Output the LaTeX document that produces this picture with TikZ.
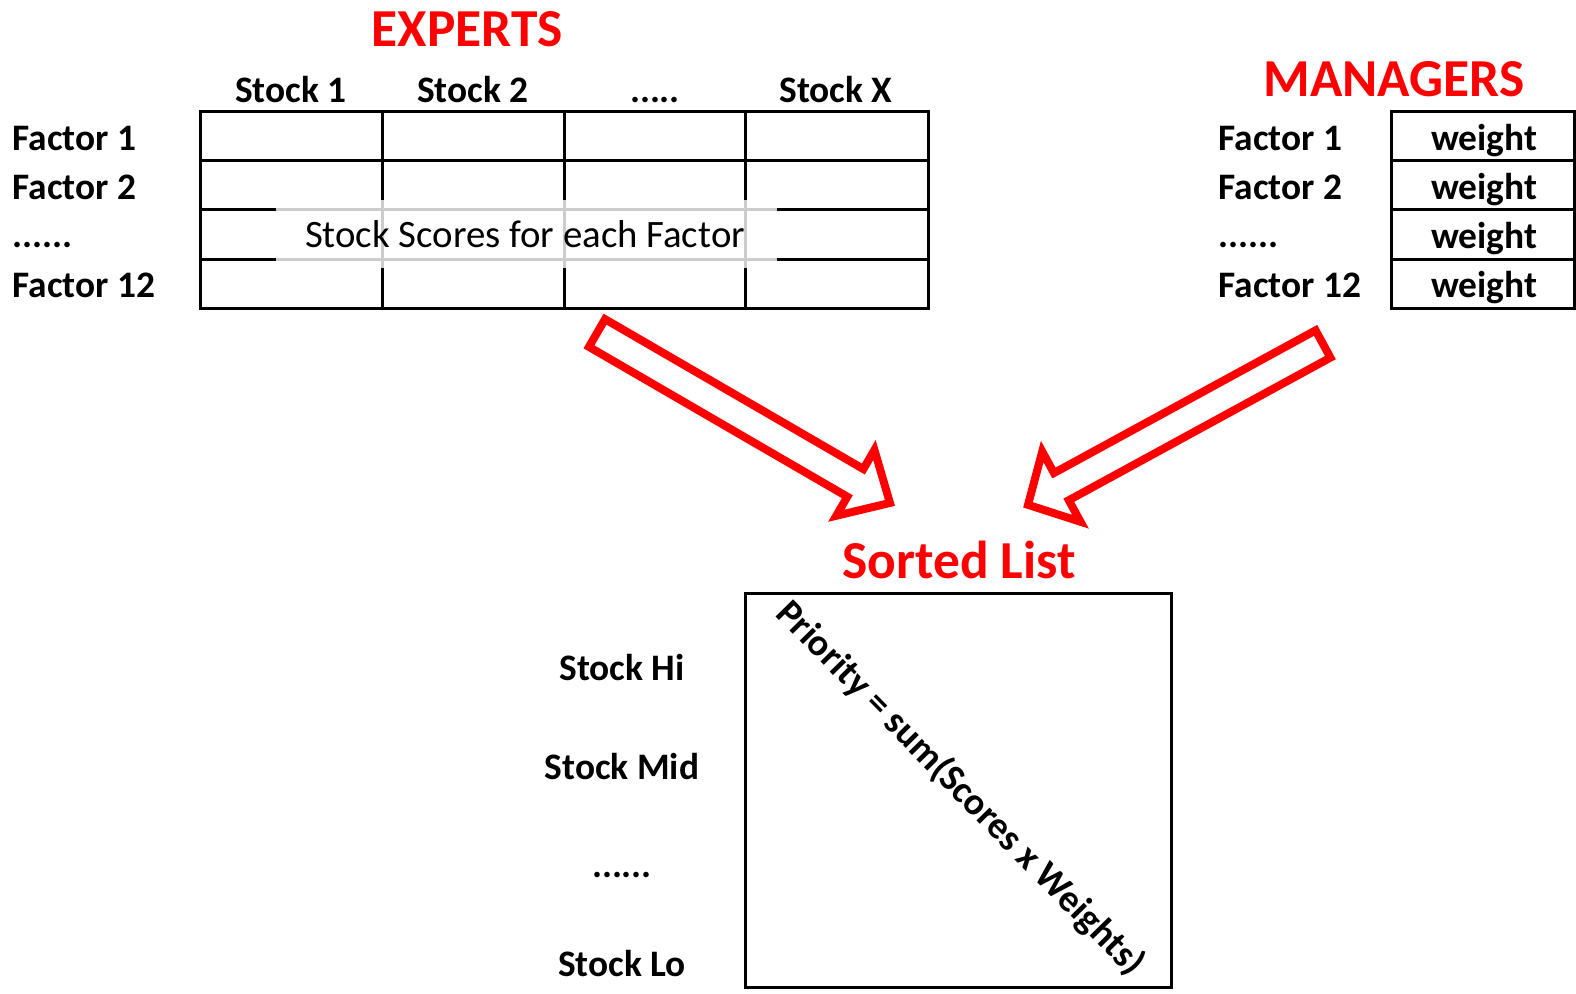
\documentclass[tikz,border=0pt]{standalone}
\usepackage{fontspec}
\setmainfont{Carlito}
\begin{document}
\begin{tikzpicture}[x=0.5pt,y=-0.5pt,
  grid/.style={line width=1.5pt, draw=black},
  lbl/.style={font=\fontsize{18.7}{22}\selectfont\bfseries, inner sep=0pt, text height=0.66em, text depth=0.2em},
  plain/.style={font=\fontsize{19.4}{22}\selectfont, inner sep=0pt, text height=0.66em, text depth=0.2em},
  ttl/.style={font=\fontsize{26.7}{32}\selectfont\bfseries, text=red, inner sep=0pt, text height=0.66em, text depth=0.2em},
  bigarrow/.style={draw=red, line width=4pt, line join=miter, fill=white}]
\path[fill=white] (0,0) rectangle (1576,994);
\useasboundingbox (0,0) rectangle (1576,994);

% ---------- EXPERTS table ----------
\node[ttl] (experts) at (467,42) {EXPERTS};
\draw[grid] (200,112) rectangle (928,309);
\foreach \y in {161,210,260} \draw[grid] (200,\y) -- (928,\y);
\foreach \x in {382,564,745} \draw[grid] (\x,112) -- (\x,309);
\fill[white, fill opacity=0.8] (276,200) rectangle (777,268);
\node[plain] (scores) at (525,243) {Stock Scores for each Factor};

\node[lbl] (s1) at (291,98) {Stock 1};
\node[lbl] (s2) at (473,98) {Stock 2};
\node[lbl] (sd) at (655,98) {.....};
\node[lbl] (sx) at (836,98) {Stock X};

\node[lbl, anchor=west] (ef1) at (12,146) {Factor 1};
\node[lbl, anchor=west] (ef2) at (12,195) {Factor 2};
\node[lbl, anchor=west] (efd) at (12,243) {......};
\node[lbl, anchor=west] (ef12) at (12,293) {Factor 12};

% ---------- MANAGERS table ----------
\node[ttl] (managers) at (1394,92) {MANAGERS};
\draw[grid] (1391,112) rectangle (1574,309);
\foreach \y in {161,210,260} \draw[grid] (1391,\y) -- (1574,\y);
\node[lbl] (w1) at (1484,146) {weight};
\node[lbl] (w2) at (1484,195) {weight};
\node[lbl] (w3) at (1484,244) {weight};
\node[lbl] (w4) at (1484,293) {weight};

\node[lbl, anchor=west] (mf1) at (1218,146) {Factor 1};
\node[lbl, anchor=west] (mf2) at (1218,195) {Factor 2};
\node[lbl, anchor=west] (mfd) at (1218,243) {......};
\node[lbl, anchor=west] (mf12) at (1218,293) {Factor 12};

% ---------- block arrows ----------
\begin{scope}[shift={(597,333)}, rotate=-30.12]
\draw[bigarrow] (0,-16) -- (298.7,-16) -- (298.7,-38) -- (338.7,0) -- (298.7,38) -- (298.7,16) -- (0,16) -- cycle;
\end{scope}
\begin{scope}[shift={(1323,344)}, rotate=-151.4]
\draw[bigarrow] (0,-15.5) -- (298,-15.5) -- (298,-40) -- (336,0) -- (298,40) -- (298,15.5) -- (0,15.5) -- cycle;
\end{scope}

% ---------- Sorted list ----------
\node[ttl] (sorted) at (959,574) {Sorted List};
\draw[grid] (745,594) rectangle (1171,987);
\node[lbl, font=\fontsize{19}{22}\selectfont\bfseries, rotate=-45.5] (prio) at (956,793) {Priority = sum(Scores x Weights)};

\node[lbl] (hi) at (622,676) {Stock Hi};
\node[lbl] (mid) at (622,775) {Stock Mid};
\node[lbl] (dots) at (622,873) {......};
\node[lbl] (lo) at (622,972) {Stock Lo};
\end{tikzpicture}
\end{document}
